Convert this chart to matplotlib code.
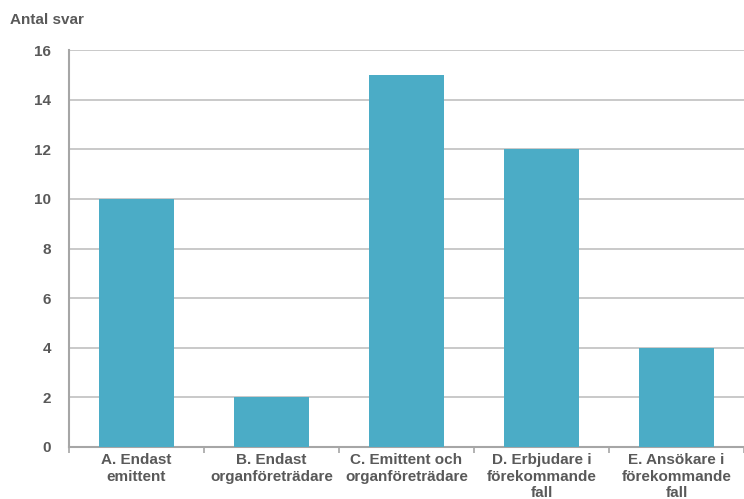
import matplotlib.pyplot as plt
import numpy as np

plt.rcParams['font.family'] = ['Liberation Sans', 'DejaVu Sans']

kategorier = ['A. Endast\nemittent', 'B. Endast\norganföreträdare',
              'C. Emittent och\norganföreträdare', 'D. Erbjudare i\nförekommande\nfall',
              'E. Ansökare i\nförekommande\nfall']
antal_svar = [10, 2, 15, 12, 4]
yticks = [0, 2, 4, 6, 8, 10, 12, 14, 16]

textfarg = '#595959'
linjefarg = '#a6a6a6'

figura = plt.figure(figsize=(7.44, 4.99), dpi=100)
eixo = figura.add_axes([69 / 744, 52 / 499, 1 - 69 / 744, 397 / 499])

x = np.arange(len(kategorier))
eixo.bar(x, antal_svar, width=0.55, color='#4bacc6', zorder=3)

eixo.set_xlim(-0.5, len(kategorier) - 0.5)
eixo.set_ylim(0, 16)
eixo.set_yticks(yticks)
eixo.yaxis.grid(True, color='#c0c0c0', linewidth=1.2, zorder=0)

# ticks mellan kategorierna
eixo.set_xticks(np.arange(len(kategorier) + 1) - 0.5)
eixo.set_xticklabels([])
eixo.tick_params(axis='x', length=4, color=linjefarg, width=1.2, direction='out')
eixo.tick_params(axis='y', length=0, labelsize=11, labelcolor=textfarg, pad=13)
for etikett in eixo.get_yticklabels():
    etikett.set_fontweight('bold')

for i, namn in enumerate(kategorier):
    eixo.text(i, -0.24, namn, ha='center', va='top', fontsize=11,
              fontweight='bold', color=textfarg, linespacing=1.25)

for sida in ['top', 'right']:
    eixo.spines[sida].set_visible(False)
for sida in ['left', 'bottom']:
    eixo.spines[sida].set_color(linjefarg)
    eixo.spines[sida].set_linewidth(1.5)

figura.text(10 / 744, 1 - 20 / 499, 'Antal svar', ha='left', va='center',
            fontsize=11, fontweight='bold', color=textfarg)

figura.savefig('out.png', dpi=100)
